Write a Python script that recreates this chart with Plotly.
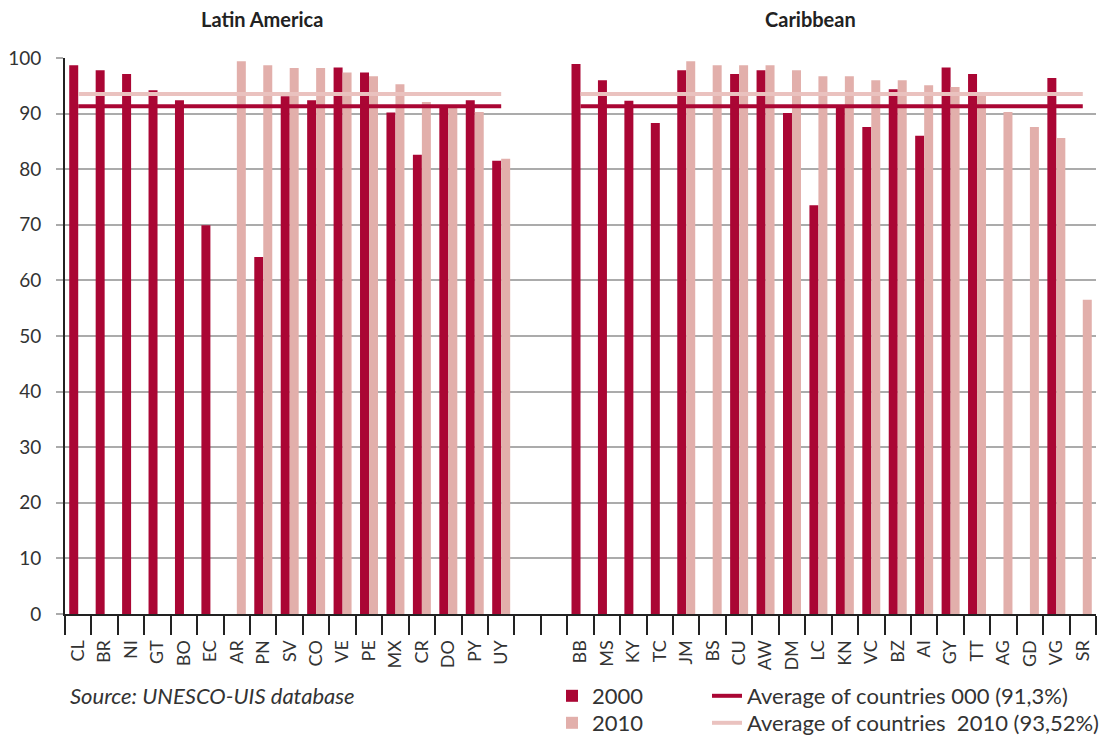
import plotly.graph_objects as go

# --- data -------------------------------------------------------------
latin_codes = ["CL", "BR", "NI", "GT", "BO", "EC", "AR", "PN", "SV", "CO",
               "VE", "PE", "MX", "CR", "DO", "PY", "UY"]
latin_2000 = [98.7, 97.8, 97.1, 94.2, 92.4, 69.9, None, 64.2, 93.1, 92.4,
              98.3, 97.4, 90.2, 82.6, 91.5, 92.4, 81.5]
latin_2010 = [None, None, None, None, None, None, 99.4, 98.7, 98.2, 98.2,
              97.4, 96.7, 95.3, 92.1, 91.0, 90.3, 81.9]

carib_codes = ["BB", "MS", "KY", "TC", "JM", "BS", "CU", "AW", "DM", "LC",
               "KN", "VC", "BZ", "AI", "GY", "TT", "AG", "GD", "VG", "SR"]
carib_2000 = [98.9, 96.0, 92.3, 88.3, 97.8, None, 97.1, 97.8, 90.1, 73.5,
              91.4, 87.6, 94.4, 86.0, 98.3, 97.1, None, None, 96.4, None]
carib_2010 = [None, None, None, None, 99.4, 98.7, 98.7, 98.7, 97.8, 96.7,
              96.7, 96.0, 96.0, 95.1, 94.8, 93.5, 90.3, 87.6, 85.6, 56.5]

avg_2000 = 91.3
avg_2010 = 93.52

y_ticks = [0, 10, 20, 30, 40, 50, 60, 70, 80, 90, 100]

# two empty slots separate the two regions on one category axis
gap = ["\u200b", "\u200b\u200b"]
categories = latin_codes + gap + carib_codes
vals_2000 = latin_2000 + [None, None] + carib_2000
vals_2010 = latin_2010 + [None, None] + carib_2010

RED = "#AA0634"
PINK = "#E2AFAB"
PINK_LINE = "#EAC2BF"
FONT = "Lato"

fig = go.Figure()

fig.add_trace(go.Bar(x=categories, y=vals_2000, name="2000",
                     marker=dict(color=RED, line=dict(width=0)),
                     legend="legend"))
fig.add_trace(go.Bar(x=categories, y=vals_2010, name="2010",
                     marker=dict(color=PINK, line=dict(width=0)),
                     legend="legend3"))

# average lines, one segment per region
def avg_segments(v):
    xs = [latin_codes[0], latin_codes[-1], gap[0], carib_codes[0], carib_codes[-1]]
    ys = [v, v, None, v, v]
    return xs, ys

x1, y1 = avg_segments(avg_2010)
x0, y0 = avg_segments(avg_2000)
fig.add_trace(go.Scatter(x=x1, y=y1, mode="lines", connectgaps=False,
                         line=dict(color=PINK_LINE, width=4),
                         name="Average of countries\u00a0 2010 (93,52%)",
                         legend="legend4"))
fig.add_trace(go.Scatter(x=x0, y=y0, mode="lines", connectgaps=False,
                         line=dict(color=RED, width=4),
                         name="Average of countries 000 (91,3%)",
                         legend="legend2"))

# the page body adds an 8px offset, so the figure is a bit smaller than the window
W, H = 1104, 732
L, R, T, B = 57, 16, 50, 126
pw, ph = W - L - R, H - T - B
# helpers taking screen pixel positions
px = lambda x: (x - 8 - L) / pw
py = lambda y: (H - B + 8 - y) / ph


def leg(x, y):
    return dict(x=px(x), y=py(y), xanchor="left", yanchor="middle",
                font=dict(size=22, color="#333333"), bgcolor="rgba(0,0,0,0)")


fig.update_layout(
    width=W, height=H, showlegend=True,
    margin=dict(l=L, r=R, t=T, b=B, autoexpand=False),
    paper_bgcolor="white", plot_bgcolor="white",
    font=dict(family=FONT, color="#333333", size=17),
    barmode="group", bargap=0.32, bargroupgap=0,
    xaxis=dict(
        type="category", categoryorder="array", categoryarray=categories,
        tickangle=-90, tickson="boundaries", ticks="outside", ticklen=19,
        tickwidth=2, tickcolor="#222222", showline=True, linewidth=2,
        linecolor="#222222", showgrid=False, tickfont=dict(size=18),
        ticklabelstandoff=17, automargin=False,
    ),
    yaxis=dict(
        range=[0, 100], tickvals=y_ticks, showgrid=True, gridcolor="#ABABAB",
        gridwidth=2, zeroline=False, showline=True, linewidth=2,
        linecolor="#222222", ticks="outside", ticklen=7, tickwidth=2,
        tickcolor="#ABABAB", tickfont=dict(size=19), ticklabelstandoff=11,
        automargin=False,
    ),
    legend=leg(552, 696),
    legend2=leg(707, 696),
    legend3=leg(552, 723),
    legend4=leg(707, 723),
    annotations=[
        dict(text="<b>Latin America</b>", x=px(262), y=py(19), xref="paper",
             yref="paper", xanchor="center", yanchor="middle", showarrow=False,
             font=dict(size=20, color="#222222")),
        dict(text="<b>Caribbean</b>", x=px(810), y=py(19), xref="paper",
             yref="paper", xanchor="center", yanchor="middle", showarrow=False,
             font=dict(size=20, color="#222222")),
        dict(text="<i>Source: UNESCO-UIS database</i>", x=px(68), y=py(695),
             xref="paper", yref="paper", xanchor="left", yanchor="middle",
             showarrow=False, font=dict(size=22, color="#333333")),
    ],
)

fig.write_html("out.html")
